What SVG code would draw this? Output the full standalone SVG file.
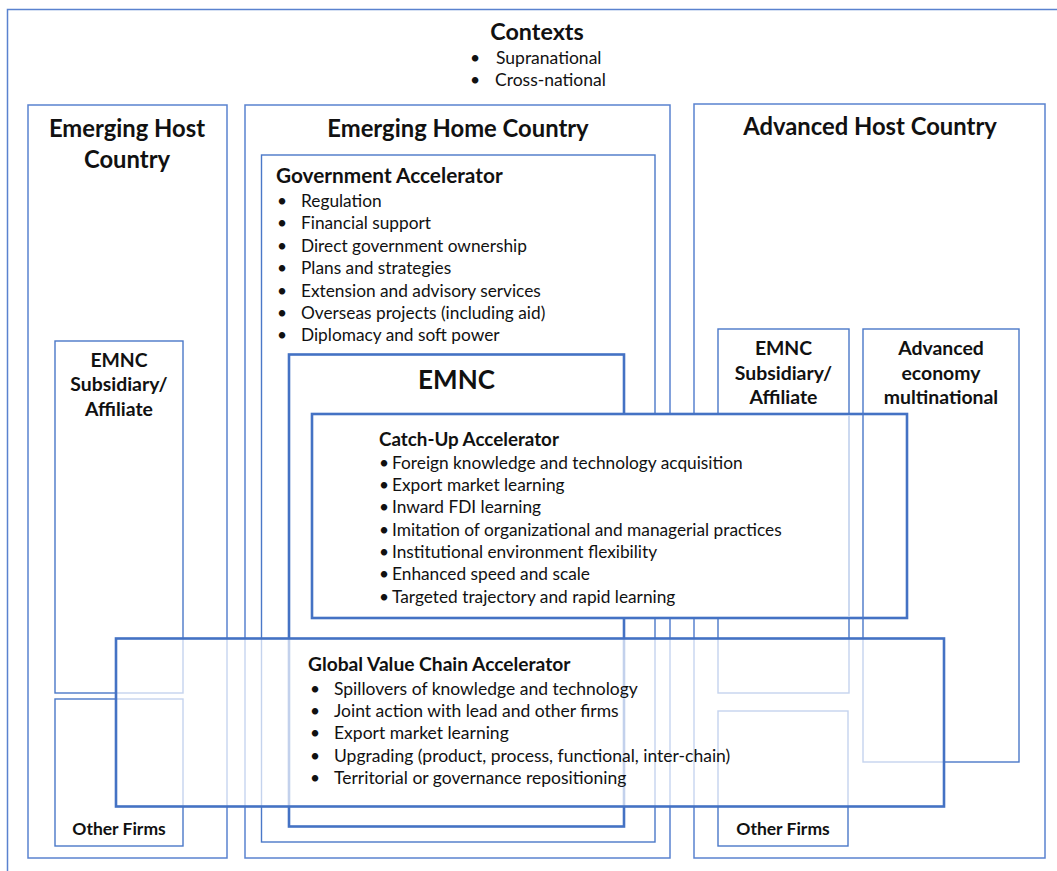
<svg xmlns="http://www.w3.org/2000/svg" width="1057" height="871" viewBox="0 0 1057 871">
<style>
.country{fill:none;stroke:#5a82cf;stroke-width:1.5}
.thin{fill:none;stroke:#4a78c8;stroke-width:1.4}
.thick{fill:none;stroke:#4472c4;stroke-width:2.6}
text{font-family:Lato,'Liberation Sans',sans-serif;fill:#111}
.h1{font-size:23.8px;font-weight:bold;text-anchor:middle}
.h2{font-size:19px;font-weight:bold}
.lbl{font-size:19.4px;font-weight:bold;text-anchor:middle}
.of{font-size:17.5px;font-weight:bold;text-anchor:middle}
.item{font-size:17.3px}
.ctx{font-size:17.5px}
</style>
<rect width="1057" height="871" fill="#ffffff"/>
<g id="contexts">
<rect class="country" x="7.5" y="9.5" width="1060" height="870"/>
<text class="h1" x="537" y="40" style="font-size:23.3px">Contexts</text>
<text class="ctx" x="470" y="64">•</text><text class="ctx" x="496" y="64">Supranational</text>
<text class="ctx" x="470" y="86">•</text><text class="ctx" x="495" y="86">Cross-national</text>
</g>
<g id="emerging-host">
<rect class="country" x="28" y="105" width="199" height="753"/>
<text class="h1" x="127" y="137">Emerging Host</text>
<text class="h1" x="127" y="168">Country</text>
</g>
<g id="emerging-home">
<rect class="country" x="245" y="105" width="425" height="753"/>
<text class="h1" x="458" y="137">Emerging Home Country</text>
</g>
<g id="advanced-host">
<rect class="country" x="694" y="104" width="351" height="754"/>
<text class="h1" x="870" y="135">Advanced Host Country</text>
</g>
<g id="government-accelerator">
<rect class="thin" x="261.5" y="155" width="393.5" height="687"/>
<text class="h2" x="276" y="183" style="font-size:20.8px">Government Accelerator</text>
<text class="item" x="277" y="207">•</text><text class="item" x="301" y="207">Regulation</text>
<text class="item" x="277" y="229">•</text><text class="item" x="301" y="229">Financial support</text>
<text class="item" x="277" y="252">•</text><text class="item" x="301" y="252">Direct government ownership</text>
<text class="item" x="277" y="274">•</text><text class="item" x="301" y="274">Plans and strategies</text>
<text class="item" x="277" y="297">•</text><text class="item" x="301" y="297">Extension and advisory services</text>
<text class="item" x="277" y="319">•</text><text class="item" x="301" y="319">Overseas projects (including aid)</text>
<text class="item" x="277" y="341">•</text><text class="item" x="301" y="341">Diplomacy and soft power</text>
</g>
<g id="emnc-subsidiary-left">
<rect class="thin" x="55" y="341" width="128" height="352"/>
<text class="lbl" x="119" y="367">EMNC</text>
<text class="lbl" x="119" y="391">Subsidiary/</text>
<text class="lbl" x="119" y="416">Affiliate</text>
</g>
<g id="other-firms-left">
<rect class="thin" x="55" y="699" width="128" height="147"/>
<text class="of" x="119" y="835">Other Firms</text>
</g>
<g id="emnc-subsidiary-right">
<rect class="thin" x="718" y="329" width="131" height="364"/>
<text class="lbl" x="783.5" y="355">EMNC</text>
<text class="lbl" x="783.5" y="380">Subsidiary/</text>
<text class="lbl" x="783.5" y="404">Affiliate</text>
</g>
<g id="other-firms-right">
<rect class="thin" x="718" y="711" width="130" height="135"/>
<text class="of" x="783" y="835">Other Firms</text>
</g>
<g id="emnc">
<rect class="thick" x="289" y="354.5" width="335" height="472"/>
<text class="h1" x="456.5" y="389" style="font-size:26px">EMNC</text>
</g>
<g id="catch-up-accelerator">
<rect class="thick" x="312" y="414" width="595" height="204" style="fill:#ffffff"/>
<line x1="849" y1="415.5" x2="849" y2="616.5" stroke="#b7c9ea" stroke-width="1.4"/>
<text class="h2" x="379" y="446" style="font-size:18.8px">Catch-Up Accelerator</text>
<text class="item" x="379" y="469">•</text><text class="item" x="392" y="469">Foreign knowledge and technology acquisition</text>
<text class="item" x="379" y="491">•</text><text class="item" x="392" y="491">Export market learning</text>
<text class="item" x="379" y="513">•</text><text class="item" x="392" y="513">Inward FDI learning</text>
<text class="item" x="379" y="536">•</text><text class="item" x="392" y="536">Imitation of organizational and managerial practices</text>
<text class="item" x="379" y="558">•</text><text class="item" x="392" y="558">Institutional environment flexibility</text>
<text class="item" x="379" y="580">•</text><text class="item" x="392" y="580">Enhanced speed and scale</text>
<text class="item" x="379" y="603">•</text><text class="item" x="392" y="603">Targeted trajectory and rapid learning</text>
</g>
<g id="advanced-economy-multinational">
<rect class="thin" x="863" y="329" width="156" height="433"/>
<text class="lbl" x="941" y="355">Advanced</text>
<text class="lbl" x="941" y="380">economy</text>
<text class="lbl" x="941" y="404">multinational</text>
</g>
<g id="global-value-chain-accelerator">
<rect class="thick" x="116" y="638.5" width="828" height="168" style="fill:#ffffff;fill-opacity:0.68"/>
<text class="h2" x="308" y="671" style="font-size:19.2px">Global Value Chain Accelerator</text>
<text class="item" x="310" y="695">•</text><text class="item" x="334" y="695" style="font-size:17.5px">Spillovers of knowledge and technology</text>
<text class="item" x="310" y="717">•</text><text class="item" x="334" y="717" style="font-size:17.5px">Joint action with lead and other firms</text>
<text class="item" x="310" y="739">•</text><text class="item" x="334" y="739" style="font-size:17.5px">Export market learning</text>
<text class="item" x="310" y="762">•</text><text class="item" x="334" y="762" style="font-size:17.5px">Upgrading (product, process, functional, inter-chain)</text>
<text class="item" x="310" y="784">•</text><text class="item" x="334" y="784" style="font-size:17.5px">Territorial or governance repositioning</text>
</g>
<g id="connectors"></g>
</svg>
